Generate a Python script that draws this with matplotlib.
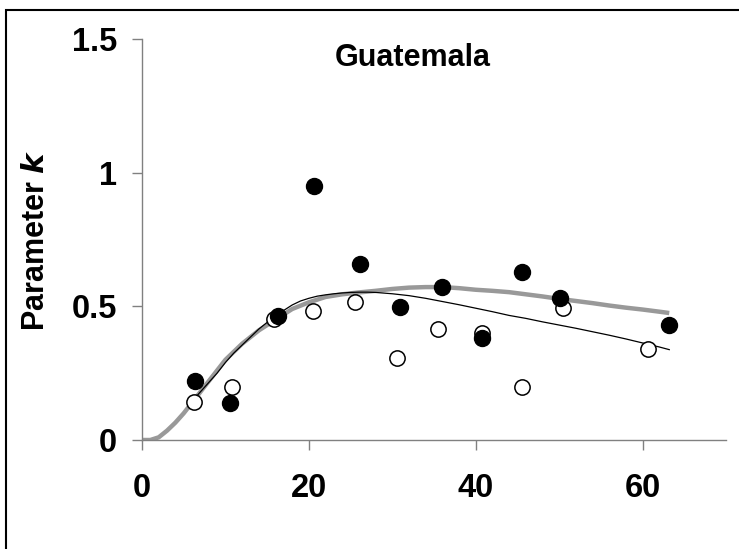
import matplotlib
matplotlib.use("Agg")
import matplotlib.pyplot as plt
from matplotlib.patches import Rectangle

plt.rcParams['font.family'] = ['Liberation Sans', 'DejaVu Sans']
plt.rcParams['font.weight'] = 'bold'

# observed points (filled / open circles)
filled_x = [6.3, 10.6, 16.3, 20.6, 26.1, 30.9, 35.9, 40.8, 45.5, 50.1, 63.2]
filled_y = [0.221, 0.14, 0.463, 0.951, 0.66, 0.497, 0.572, 0.382, 0.627, 0.532, 0.429]
open_x = [6.2, 10.8, 15.8, 20.5, 25.5, 30.6, 35.5, 40.7, 45.5, 50.5, 60.6]
open_y = [0.142, 0.199, 0.451, 0.483, 0.515, 0.305, 0.417, 0.40, 0.20, 0.495, 0.34]

# grey thick curve
grey_x = [0, 1, 2, 3, 4, 5, 6, 7, 8, 9, 10, 12, 14, 16, 18, 20, 22, 24, 26, 28,
          30, 32, 34, 36, 38, 40, 42, 44, 46, 48, 50, 52, 54, 56, 58, 60, 62, 63.2]
grey_y = [0, 0, 0.01, 0.035, 0.065, 0.1, 0.14, 0.18, 0.22, 0.26, 0.30, 0.36, 0.41,
          0.45, 0.49, 0.515, 0.535, 0.545, 0.552, 0.558, 0.565, 0.57, 0.572, 0.572,
          0.568, 0.562, 0.558, 0.553, 0.545, 0.537, 0.528, 0.52, 0.512, 0.503,
          0.495, 0.488, 0.48, 0.475]

# black thin curve
black_x = [6.3, 7, 8, 9, 10, 11, 12, 13, 14, 15, 16, 17, 18, 19, 20, 21, 22, 23, 24,
           25, 26, 27, 28, 30, 32, 34, 36, 38, 40, 42, 44, 46, 48, 50, 52, 54, 56,
           58, 60, 62, 63.2]
black_y = [0.155, 0.18, 0.215, 0.25, 0.29, 0.325, 0.355, 0.385, 0.415, 0.44, 0.46,
           0.485, 0.505, 0.52, 0.53, 0.538, 0.543, 0.547, 0.55, 0.552, 0.553, 0.553,
           0.552, 0.547, 0.54, 0.53, 0.518, 0.506, 0.493, 0.48, 0.466, 0.455, 0.442,
           0.43, 0.418, 0.405, 0.392, 0.378, 0.363, 0.348, 0.338]

W, H = 739, 549
fig = plt.figure(figsize=(W / 100, H / 100), dpi=100)
ax = fig.add_axes([142 / W, 1 - 440 / H, (726 - 142) / W, (440 - 39) / H])

ax.plot(grey_x, grey_y, color='#999999', lw=3.2, solid_capstyle='butt', zorder=2)
ax.plot(black_x, black_y, color='black', lw=0.9, zorder=3)
ax.plot(open_x, open_y, 'o', ms=11, mfc='white', mec='black', mew=1.1, zorder=4)
ax.plot(filled_x, filled_y, 'o', ms=11.5, mfc='black', mec='black', zorder=5)

ax.set_xlim(0, 70)
ax.set_ylim(0, 1.5)
ax.set_xticks([0, 20, 40, 60])
ax.set_yticks([0, 0.5, 1, 1.5])
ax.set_yticklabels(['0', '0.5', '1', '1.5'])

for s in ['top', 'right']:
    ax.spines[s].set_visible(False)
for s in ['left', 'bottom']:
    ax.spines[s].set_color('#808080')
    ax.spines[s].set_linewidth(1.0)
ax.tick_params(axis='both', direction='out', length=7, width=1, color='#808080',
               labelsize=23.5)
ax.tick_params(axis='y', pad=11)
ax.tick_params(axis='x', pad=17)

ax.text(413 / W, 1 - 43 / H, 'Guatemala', transform=fig.transFigure, fontsize=22,
        fontweight='bold', ha='center', va='top')
ax.set_ylabel('Parameter $\\boldsymbol{k}$', fontsize=22, fontweight='bold')
ax.yaxis.set_label_coords(51 / W, 1 - 240 / H, transform=fig.transFigure)

# outer frame (only left and top visible in the picture)
fig.patches.append(Rectangle((6 / W, -0.1), 1.2, 1 - 10 / H + 0.1,
                             transform=fig.transFigure, fill=False,
                             edgecolor='black', lw=1.5))

fig.savefig('out.png', dpi=100)
